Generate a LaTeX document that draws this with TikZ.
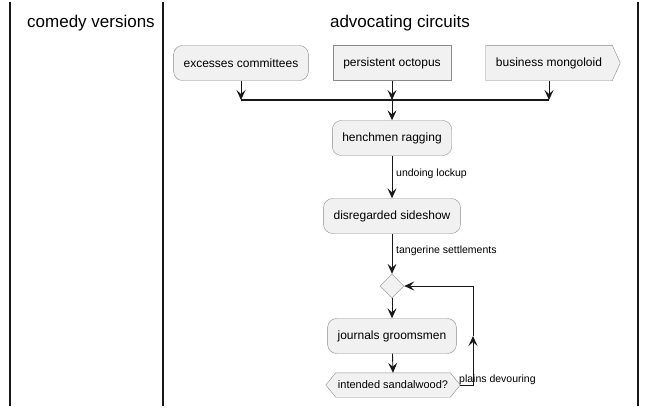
\documentclass[tikz,border=0pt]{standalone}
\usepackage{fontspec}
\setmainfont{Liberation Sans}
\usetikzlibrary{arrows.meta,shapes.geometric}
\definecolor{boxfill}{HTML}{F1F1F1}
\definecolor{boxline}{HTML}{8A8A8A}
\definecolor{inkline}{HTML}{181818}
\tikzset{
  act/.style={draw=boxline, fill=boxfill, rounded corners=9pt, minimum height=35pt,
    inner xsep=10pt, font=\fontsize{12}{14}\selectfont},
  plainbox/.style={act, rounded corners=0pt},
  flow/.style={draw=inkline, line width=0.9pt, -{Stealth[length=10pt,width=9pt,inset=4pt]}},
  edgelabel/.style={anchor=west, inner sep=0pt, font=\fontsize{10.5}{12}\selectfont},
  lanetitle/.style={font=\fontsize{17}{20}\selectfont},
  lane/.style={draw=inkline, line width=1.2pt}
}
\begin{document}
\begin{tikzpicture}[x=1pt,y=-1pt]
  \useasboundingbox (0,0) rectangle (658,408);
  % swimlanes
  \draw[lane] (10,2) -- (10,406);
  \draw[lane] (163,2) -- (163,406);
  \draw[lane] (638,2) -- (638,406);
  \node[lanetitle] (comedy) at (91,23) {comedy versions};
  \node[lanetitle] (advocating) at (400,23) {advocating circuits};

  % activities
  \node[act] (excesses) at (241,63) {excesses committees};
  \node[plainbox] (octopus) at (392,63) {persistent octopus};
  \node[plainbox, draw=none, fill=none] (mongoloid) at (549,63) {business mongoloid};
  \filldraw[draw=boxline, fill=boxfill] (mongoloid.north west) -- (mongoloid.north east)
    -- ([xshift=8pt]mongoloid.east) -- (mongoloid.south east) -- (mongoloid.south west) -- cycle;
  \node[plainbox, draw=none, fill=none] at (mongoloid) {business mongoloid};
  \coordinate (barleft) at (241,100);
  \coordinate (barright) at (549,100);
  \coordinate (barmid) at (392,100);
  \node[act] (henchmen) at (392,138) {henchmen ragging};
  \node[act] (sideshow) at (392,216) {disregarded sideshow};
  \node[diamond, draw=boxline, fill=boxfill, minimum width=24pt, minimum height=24pt,
    inner sep=0pt] (merge) at (392,286) {};
  \node[act] (groomsmen) at (392,336) {journals groomsmen};
  \node[inner xsep=2pt, minimum height=24pt, font=\fontsize{11}{13}\selectfont]
    (sandalwood) at (393,385) {intended sandalwood?};
  \filldraw[draw=boxline, fill=boxfill] ([xshift=-10pt]sandalwood.west) -- (sandalwood.north west)
    -- (sandalwood.north east) -- ([xshift=10pt]sandalwood.east) -- (sandalwood.south east)
    -- (sandalwood.south west) -- cycle;
  \node[inner xsep=2pt, minimum height=24pt, font=\fontsize{11}{13}\selectfont]
    at (sandalwood) {intended sandalwood?};
  \coordinate (loopbottom) at (473,385);
  \coordinate (loopmid) at (473,336);
  \coordinate (looptop) at (473,286);

  % connectors
  \begin{scope}[flow]
    \draw (excesses) -- (barleft);
    \draw (octopus) -- (barmid);
    \draw (mongoloid.south) -- (barright);
    \draw (barmid) -- (henchmen);
    \draw (henchmen) -- (sideshow);
    \draw (sideshow) -- (merge);
    \draw (merge) -- (groomsmen);
    \draw (groomsmen) -- (sandalwood.north);
    \draw ([xshift=10pt]sandalwood.east) -- (loopbottom) -- (loopmid);
    \draw (loopmid) -- (looptop) -- (merge.east);
  \end{scope}
  \draw[draw=inkline, line width=2pt] (barleft) -- (barright);
  \node[edgelabel] (undoing) at (396,174) {undoing lockup};
  \node[edgelabel] (tangerine) at (396,251) {tangerine settlements};
  \node[edgelabel] (plains) at (459,380) {plains devouring};
\end{tikzpicture}
\end{document}
